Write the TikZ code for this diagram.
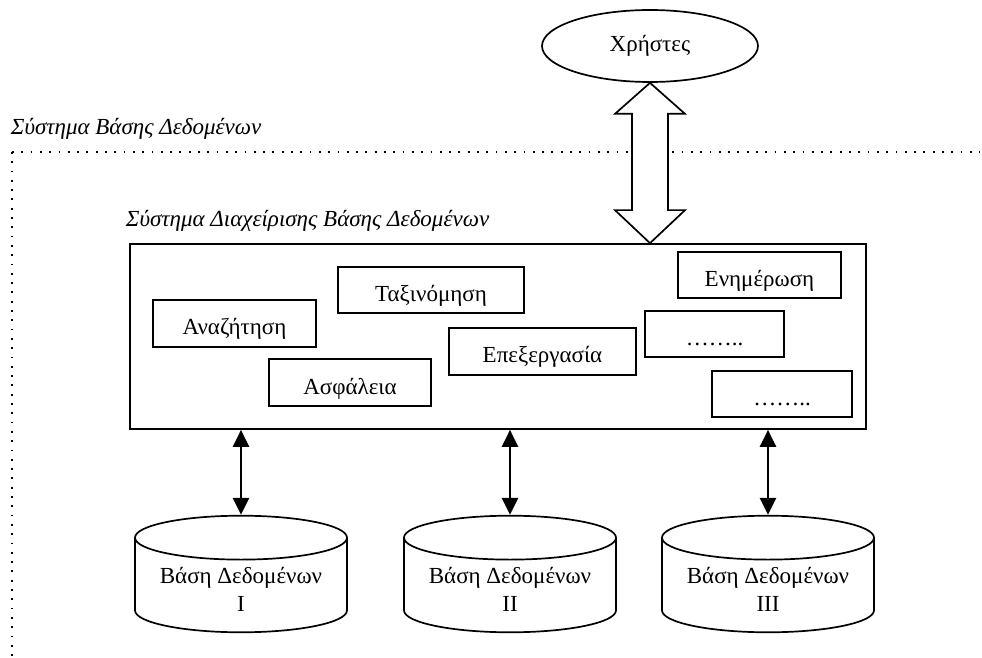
\documentclass[tikz,border=0pt]{standalone}
\usepackage{fontspec}
\setmainfont{Liberation Serif}
\usetikzlibrary{arrows.meta,positioning,shapes.geometric,calc}

\begin{document}
\begin{tikzpicture}[x=0.5pt,y=-0.5pt,line width=0.85pt,
      font=\fontsize{11.5}{14}\selectfont,
      opbox/.style={draw,inner sep=0pt,minimum height=23.5pt,text height=13pt,text depth=1.5pt},
      dbcyl/.style={cylinder,shape border rotate=90,draw,aspect=0.25,minimum width=106pt,minimum height=57pt,align=center},
      caption/.style={inner sep=0pt,anchor=base west,font=\fontsize{11.5}{14}\selectfont\itshape},
      sysdots/.style={line width=0.9pt,dash pattern=on 0.9pt off 3.75pt},
      dblink/.style={{Triangle[length=8.5pt,width=8pt]}-{Triangle[length=8.5pt,width=8pt]},line width=1.25pt}]
    \useasboundingbox (0,0) rectangle (982,658);

    % system frame
    \node[caption] (syslabel) at (10,135) {Σύστημα Βάσης Δεδομένων};
    \draw[sysdots] (12,152) -- (980,152);
    \draw[sysdots] (12,152) -- (12,656);

    \node[ellipse,draw,minimum width=108pt,minimum height=36pt,inner sep=0pt] (users) at (650,46) {Χρήστες};

    % DBMS
    \node[caption] (dbmslabel) at (125,227) {Σύστημα Διαχείρισης Βάσης Δεδομένων};
    \node[draw,minimum width=368pt,minimum height=92.5pt] (dbms) at (498,336.5) {};
    \node[opbox,minimum width=81.5pt] (search) at (234.5,323.5) {Αναζήτηση};
    \node[opbox,minimum width=93pt,minimum height=23pt] (sort) at (431,290) {Ταξινόμηση};
    \node[opbox,minimum width=81pt] (secur) at (350,382.5) {Ασφάλεια};
    \node[opbox,minimum width=93.5pt] (proc) at (542.5,351.5) {Επεξεργασία};
    \node[opbox,minimum width=81.5pt,minimum height=23pt] (update) at (759.5,275) {Ενημέρωση};
    \node[opbox,minimum width=69.5pt,minimum height=23pt] (more1) at (714.5,334) {……..};
    \node[opbox,minimum width=70pt,minimum height=23pt] (more2) at (782,394) {……..};

    % users <-> DBMS
    \coordinate (atop) at (users.south);
    \coordinate (abot) at (users.south |- dbms.north);
    \draw[fill=white] (atop) -- ++(35,31) -- ++(-17,0) -- ($(abot)+(18,-33)$) -- ++(17,0) -- (abot)
      -- ++(-35,-33) -- ++(17,0) -- ($(atop)+(-18,31)$) -- ++(-17,0) -- cycle;

    % databases
    \node[dbcyl,anchor=shape center] (db1) at (241,574) {Βάση Δεδομένων\\I};
    \node[dbcyl,anchor=shape center] (db2) at (510,574) {Βάση Δεδομένων\\II};
    \node[dbcyl,anchor=shape center] (db3) at (768,574) {Βάση Δεδομένων\\III};
    \draw[dblink] (db1.north) -- (db1.north |- dbms.south);
    \draw[dblink] (db2.north) -- (db2.north |- dbms.south);
    \draw[dblink] (db3.north) -- (db3.north |- dbms.south);
  \end{tikzpicture}
\end{document}
